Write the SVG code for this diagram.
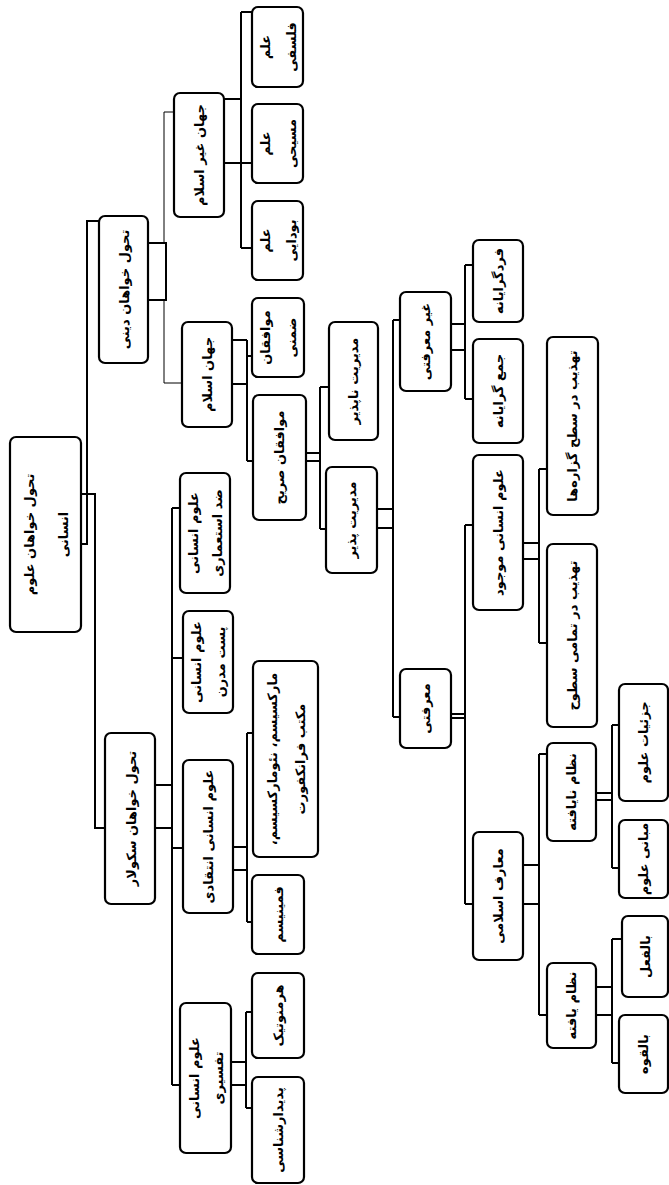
<svg xmlns="http://www.w3.org/2000/svg" width="669" height="1185" viewBox="0 0 669 1185">
<style>
.box{fill:#fff;stroke:#000;stroke-width:2.2}
.t{font-family:"DejaVu Sans",sans-serif;font-size:13px;font-weight:bold;fill:#000;text-anchor:middle;dominant-baseline:central;direction:rtl}
.c{fill:none;stroke:#000;stroke-width:2}
.thin{fill:none;stroke:#000;stroke-width:1}
</style>
<rect width="669" height="1185" fill="#fff"/>
<g id="connectors">
<path class="c" d="M75,544H87V221H99"/>
<path class="c" d="M74,494H95V828H105"/>
<path class="c" d="M148,243H166V300H148"/>
<path class="thin" d="M164,243V112H174M164,300V383H182"/>
<path class="c" d="M224,99H241M224,163H241M241,12V248M241,12H252M241,163H252M241,248H252"/>
<path class="c" d="M232,340H247M232,384H247M247,340V461M247,356H252M247,461H253"/>
<path class="c" d="M306,453H320M306,461H320M320,387V529M320,387H329M320,529H326"/>
<path class="c" d="M377,509H393M377,528H393M393,320V717M393,320H400M393,717H400"/>
<path class="c" d="M451,324H465M451,350H465M465,265V399M465,265H473M465,399H473"/>
<path class="c" d="M451,714H465M451,718H465M465,525V904M465,525H473M465,904H473"/>
<path class="c" d="M523,543H539M523,559H539M539,469V643M539,469H547M539,643H547"/>
<path class="c" d="M523,865H539M523,904H539M539,754V1015M539,754H547M539,1015H547"/>
<path class="c" d="M596,793H612M596,800H612M612,725V868M612,725H619M612,868H619"/>
<path class="c" d="M596,987H612M596,1015H612M612,939V1063M612,939H622M612,1063H619"/>
<path class="c" d="M233,847H247M233,870H247M247,733V922M247,733H253M247,922H252"/>
<path class="c" d="M231,1062H246M231,1085H246M246,1012V1108M246,1012H252M246,1108H252"/>
<path class="c" d="M155,785H172M155,828H172M172,508V1085M172,508H180M172,658H183M172,848H183M172,1085H180"/>
</g>
<g id="root"><rect class="box" x="10" y="437" width="71" height="195" rx="6"/><text class="t" font-size="14" transform="translate(45.5,534.5) rotate(-90)"><tspan x="0" y="-17">تحول خواهان علوم</tspan><tspan x="0" y="17">انسانی</tspan></text></g>
<g id="dini"><rect class="box" x="99" y="216" width="49" height="147" rx="6"/><text class="t" font-size="14" transform="translate(124,289.5) rotate(-90)">تحول خواهان دینی</text></g>
<g id="secular"><rect class="box" x="105" y="733" width="50" height="171" rx="6"/><text class="t" font-size="14" transform="translate(131,818.5) rotate(-90)">تحول خواهان سکولار</text></g>
<g id="ghairIslam"><rect class="box" x="174" y="93" width="50" height="124" rx="6"/><text class="t" transform="translate(199,155) rotate(-90)">جهان غیر اسلام</text></g>
<g id="falsafi"><rect class="box" x="252" y="7" width="51" height="80" rx="6"/><text class="t" transform="translate(277.5,47) rotate(-90)"><tspan x="0" y="-13">علم</tspan><tspan x="0" y="13">فلسفی</tspan></text></g>
<g id="masihi"><rect class="box" x="252" y="104" width="51" height="79" rx="6"/><text class="t" transform="translate(277.5,143.5) rotate(-90)"><tspan x="0" y="-13">علم</tspan><tspan x="0" y="13">مسیحی</tspan></text></g>
<g id="budai"><rect class="box" x="252" y="201" width="51" height="79" rx="6"/><text class="t" transform="translate(277.5,240.5) rotate(-90)"><tspan x="0" y="-13">علم</tspan><tspan x="0" y="13">بودایی</tspan></text></g>
<g id="jahanIslam"><rect class="box" x="182" y="322" width="50" height="105" rx="6"/><text class="t" transform="translate(207,374.5) rotate(-90)">جهان اسلام</text></g>
<g id="zemni"><rect class="box" x="252" y="298" width="52" height="79" rx="6"/><text class="t" transform="translate(278,337.5) rotate(-90)"><tspan x="0" y="-13">موافقان</tspan><tspan x="0" y="13">ضمنی</tspan></text></g>
<g id="sarih"><rect class="box" x="253" y="395" width="53" height="125" rx="6"/><text class="t" transform="translate(279.5,457.5) rotate(-90)">موافقان صریح</text></g>
<g id="napazir"><rect class="box" x="329" y="322" width="49" height="118" rx="6"/><text class="t" transform="translate(353.5,381) rotate(-90)">مدیریت ناپذیر</text></g>
<g id="pazir"><rect class="box" x="326" y="467" width="51" height="106" rx="6"/><text class="t" transform="translate(351.5,520) rotate(-90)">مدیریت پذیر</text></g>
<g id="ghairMarefati"><rect class="box" x="400" y="292" width="51" height="99" rx="6"/><text class="t" transform="translate(425.5,341.5) rotate(-90)">غیر معرفتی</text></g>
<g id="fardgara"><rect class="box" x="473" y="240" width="50" height="82" rx="6"/><text class="t" transform="translate(498,281) rotate(-90)">فردگرایانه</text></g>
<g id="jamgara"><rect class="box" x="473" y="339" width="50" height="104" rx="6"/><text class="t" transform="translate(498,391) rotate(-90)">جمع گرایانه</text></g>
<g id="marefati"><rect class="box" x="400" y="669" width="51" height="79" rx="6"/><text class="t" transform="translate(425.5,708.5) rotate(-90)">معرفتی</text></g>
<g id="mojud"><rect class="box" x="473" y="455" width="50" height="155" rx="6"/><text class="t" transform="translate(498,532.5) rotate(-90)">علوم انسانی موجود</text></g>
<g id="tahzibGozare"><rect class="box" x="547" y="337" width="51" height="178" rx="6"/><text class="t" transform="translate(572.5,426) rotate(-90)">تهذیب در سطح گزاره‌ها</text></g>
<g id="tahzibSotuh"><rect class="box" x="547" y="544" width="50" height="183" rx="6"/><text class="t" transform="translate(572,635.5) rotate(-90)">تهذیب در تمامی سطوح</text></g>
<g id="maarefIslami"><rect class="box" x="473" y="832" width="50" height="128" rx="6"/><text class="t" transform="translate(498,896) rotate(-90)">معارف اسلامی</text></g>
<g id="nezamNayafte"><rect class="box" x="547" y="743" width="49" height="98" rx="6"/><text class="t" transform="translate(571.5,792) rotate(-90)">نظام نایافته</text></g>
<g id="nezamYafte"><rect class="box" x="547" y="963" width="49" height="85" rx="6"/><text class="t" transform="translate(571.5,1005.5) rotate(-90)">نظام یافته</text></g>
<g id="jozeiat"><rect class="box" x="619" y="684" width="49" height="117" rx="6"/><text class="t" transform="translate(643.5,742.5) rotate(-90)">جزئیات علوم</text></g>
<g id="mabani"><rect class="box" x="619" y="820" width="49" height="78" rx="6"/><text class="t" transform="translate(643.5,859) rotate(-90)">مبانی علوم</text></g>
<g id="belfel"><rect class="box" x="622" y="916" width="46" height="81" rx="6"/><text class="t" transform="translate(645,956.5) rotate(-90)">بالفعل</text></g>
<g id="belqove"><rect class="box" x="619" y="1015" width="49" height="78" rx="6"/><text class="t" transform="translate(643.5,1054) rotate(-90)">بالقوه</text></g>
<g id="zedEstemari"><rect class="box" x="180" y="473" width="50" height="120" rx="6"/><text class="t" transform="translate(205,533) rotate(-90)"><tspan x="0" y="-12">علوم انسانی</tspan><tspan x="0" y="12">ضد استعماری</tspan></text></g>
<g id="postModern"><rect class="box" x="183" y="611" width="50" height="102" rx="6"/><text class="t" transform="translate(208,662) rotate(-90)"><tspan x="0" y="-12">علوم انسانی</tspan><tspan x="0" y="12">پست مدرن</tspan></text></g>
<g id="enteghadi"><rect class="box" x="183" y="760" width="50" height="153" rx="6"/><text class="t" transform="translate(208,836.5) rotate(-90)">علوم انسانی انتقادی</text></g>
<g id="marxism"><rect class="box" x="253" y="661" width="65" height="196" rx="6"/><text class="t" transform="translate(285.5,759) rotate(-90)"><tspan x="0" y="-14">مارکسیسم، نئومارکسیسم،</tspan><tspan x="0" y="14">مکتب فرانکفورت</tspan></text></g>
<g id="feminism"><rect class="box" x="252" y="875" width="52" height="79" rx="6"/><text class="t" transform="translate(278,914.5) rotate(-90)">فمینیسم</text></g>
<g id="tafsiri"><rect class="box" x="180" y="1003" width="51" height="150" rx="6"/><text class="t" transform="translate(205.5,1078) rotate(-90)"><tspan x="0" y="-12">علوم انسانی</tspan><tspan x="0" y="12">تفسیری</tspan></text></g>
<g id="hermeneutic"><rect class="box" x="252" y="973" width="52" height="85" rx="6"/><text class="t" transform="translate(278,1015.5) rotate(-90)">هرمنوتیک</text></g>
<g id="padidar"><rect class="box" x="252" y="1077" width="52" height="106" rx="6"/><text class="t" transform="translate(278,1130) rotate(-90)">پدیدارشناسی</text></g>
</svg>
